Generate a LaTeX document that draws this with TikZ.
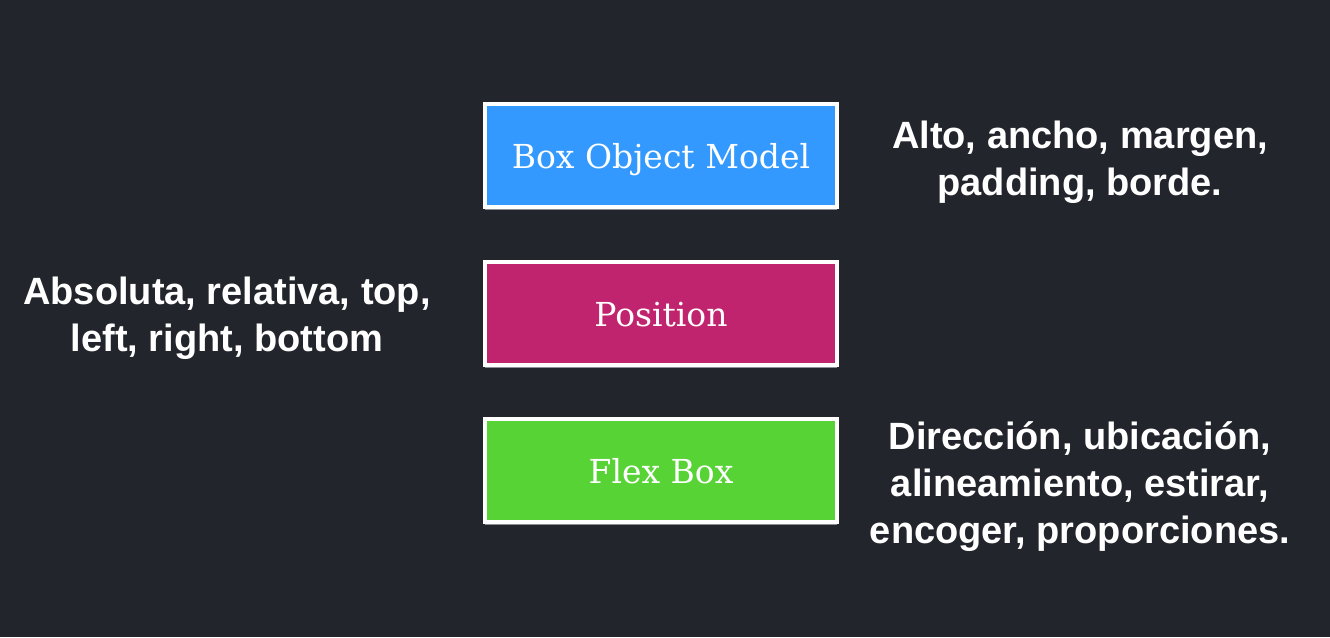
\documentclass[tikz,border=0pt]{standalone}
\usepackage{fontspec}
\setmainfont{Liberation Sans}
\newfontfamily\slabfont{DejaVu Serif}
\usetikzlibrary{shadows}
\definecolor{bgc}{RGB}{35,37,44}
\definecolor{boxblue}{RGB}{51,153,255}
\definecolor{boxmag}{RGB}{193,36,110}
\definecolor{boxgreen}{RGB}{87,211,53}
\definecolor{shadowc}{RGB}{140,142,150}
\tikzset{
  topic/.style={draw=white, line width=4pt, minimum width=352pt, minimum height=103pt,
    inner sep=0pt, text=white, font=\slabfont\fontsize{33}{38}\selectfont,
    text height=31pt, text depth=6pt,
    drop shadow={shadow xshift=0pt, shadow yshift=-2.5pt, fill=shadowc, opacity=1}},
  note/.style={text=white, align=center, inner sep=0pt,
    font=\bfseries\fontsize{38}{47}\selectfont}
}
\begin{document}
\begin{tikzpicture}[x=1pt, y=-1pt]
\fill[bgc] (0,0) rectangle (1330,637);
\useasboundingbox (0,0) rectangle (1330,637);
\node[topic, fill=boxblue] (bom) at (661,155.5) {Box Object Model};
\node[topic, fill=boxmag] (pos) at (661,313.5) {Position};
\node[topic, fill=boxgreen] (flex) at (661,470.5) {Flex Box};
\node[note, anchor=base] (bomnote) at (1080,195) {Alto, ancho, margen,\\padding, borde.};
\node[note, anchor=base] (posnote) at (227,351) {Absoluta, relativa, top,\\left, right, bottom};
\node[note, anchor=base] (flexnote) at (1080,543) {Dirección, ubicación,\\alineamiento, estirar,\\encoger, proporciones.};
\end{tikzpicture}
\end{document}
